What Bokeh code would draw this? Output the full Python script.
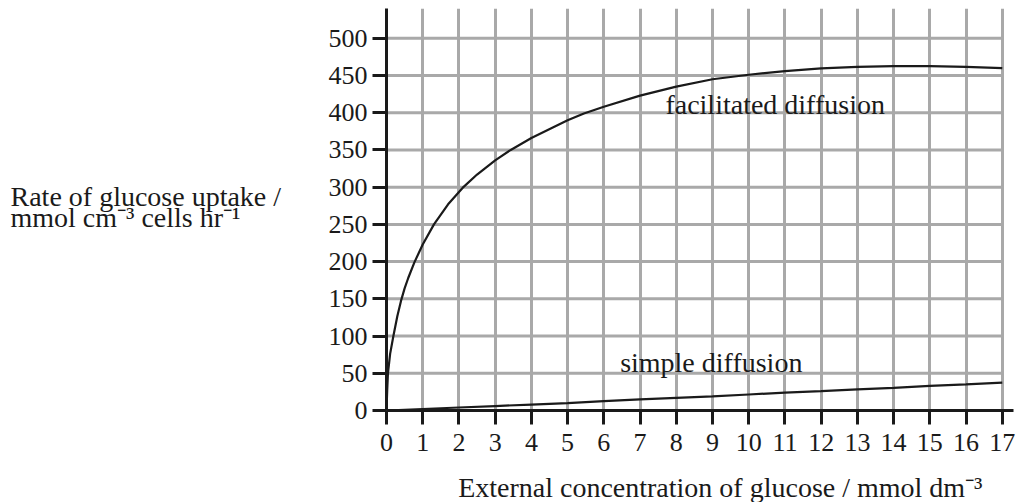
from bokeh.plotting import figure
from bokeh.models import FixedTicker, Range1d
from bokeh.layouts import column, row
from bokeh.embed import file_html
from bokeh.resources import INLINE
from bokeh.core.properties import value

# ---- data ----
x_ticks = list(range(0, 18))
y_ticks = list(range(0, 501, 50))

facilitated_x = [0, 0.02, 0.04, 0.1, 0.19, 0.3, 0.41, 0.5, 0.6, 0.77, 1.0, 1.31, 1.7, 2.1, 2.5, 3.0,
                 3.43, 4, 5, 5.45, 6, 7, 8, 9, 10, 11, 12, 13, 14, 15, 16, 17]
facilitated_y = [0, 28, 50, 76, 100, 127, 149, 164, 178, 199, 223, 250, 277, 299, 317, 336,
                 350, 366, 390, 399, 408, 423, 435, 445, 451, 456, 459.5, 461.5, 462.5, 462.5, 461.5, 460]

simple_x = list(range(0, 18))
simple_y = [0, 2, 4, 6, 8, 10, 12.5, 15, 17, 19, 21.5, 24, 26, 28.5, 30.5, 33, 35, 37.5]

label_facilitated = "facilitated diffusion"
label_simple = "simple diffusion"
y_title_lines = ["Rate of glucose uptake /", "mmol cm\u207b\u00b3 cells hr\u207b\u00b9"]
x_title = "External concentration of glucose / mmol dm\u207b\u00b3"

FONT = "Liberation Serif"
INK = "#1a1a1a"
GRID = "#a9a9a9"

LEFT_W = 320          # width of the left title panel
MAIN_H = 460          # height of the main figure
BOTTOM_H = 42         # height of the x-title panel

# ---- main chart ----
p = figure(frame_width=627, frame_height=402,
           min_border_left=386 - LEFT_W, min_border_right=3, min_border_top=8, min_border_bottom=50,
           x_range=Range1d(0, 17.31), y_range=Range1d(0, 540),
           output_backend="svg", toolbar_location=None, tools="")
p.outline_line_color = None
p.background_fill_color = "white"
p.border_fill_color = "white"

p.xgrid.ticker = FixedTicker(ticks=x_ticks)
p.xgrid.grid_line_color = GRID
p.xgrid.grid_line_width = 3
p.ygrid.visible = False
p.segment(x0=[x_ticks[0]] * len(y_ticks), x1=[x_ticks[-1]] * len(y_ticks),
          y0=y_ticks, y1=y_ticks, line_color=GRID, line_width=3)

p.line(facilitated_x, facilitated_y, line_color=INK, line_width=2.2)
p.line(simple_x, simple_y, line_color=INK, line_width=2.2)

for ax in (p.xaxis[0], p.yaxis[0]):
    ax.axis_line_color = INK
    ax.axis_line_width = 3
    ax.major_tick_line_color = INK
    ax.major_tick_line_width = 3
    ax.major_tick_out = 14
    ax.major_tick_in = 0
    ax.minor_tick_line_color = None
    ax.major_label_text_font = FONT
    ax.major_label_text_font_size = "26px"
    ax.major_label_text_color = INK
p.xaxis.ticker = FixedTicker(ticks=x_ticks)
p.yaxis.ticker = FixedTicker(ticks=y_ticks)
p.xaxis.major_label_standoff = 9
p.yaxis.major_label_standoff = 5

p.text(x=[7.7], y=[411], text=[label_facilitated], text_font=value(FONT), text_font_size="28px",
       text_color=INK, text_align="left", text_baseline="alphabetic")
p.text(x=[6.45], y=[64], text=[label_simple], text_font=value(FONT), text_font_size="28px",
       text_color=INK, text_align="left", text_baseline="alphabetic")

# ---- left panel: y title (horizontal, two lines) ----
def blank(width, height):
    f = figure(width=width, height=height, x_range=Range1d(0, width), y_range=Range1d(0, height),
               min_border=0, output_backend="svg", toolbar_location=None, tools="",
               x_axis_location=None, y_axis_location=None)
    f.grid.visible = False
    f.outline_line_color = None
    f.background_fill_color = "white"
    f.border_fill_color = "white"
    return f

left = blank(LEFT_W, MAIN_H)
left.text(x=[10, 10], y=[245, 221], text=y_title_lines, text_font=value(FONT),
          text_font_size="28px", text_color=INK, text_align="left", text_baseline="alphabetic")

# ---- bottom panel: x title ----
TOTAL_W = LEFT_W + (386 - LEFT_W) + 627 + 3
bottom = blank(TOTAL_W, BOTTOM_H)
bottom.text(x=[982], y=[15], text=[x_title], text_font=value(FONT),
            text_font_size="28px", text_color=INK, text_align="right", text_baseline="alphabetic")

layout = column(row(left, p, spacing=0), bottom, spacing=0)
open("out.html", "w").write(file_html(layout, INLINE))
